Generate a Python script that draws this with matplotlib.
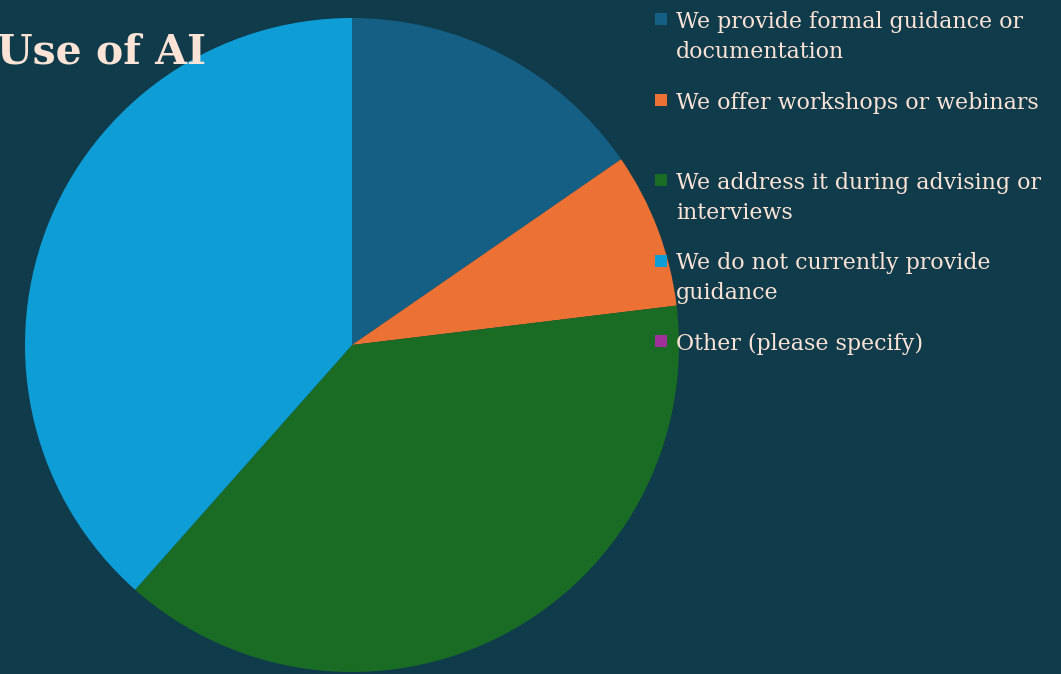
import matplotlib
matplotlib.use("Agg")
import matplotlib.pyplot as plt
from matplotlib.patches import Rectangle

# ------------------------------------------------------------
# Data
# ------------------------------------------------------------

labels = [
    "We provide formal guidance or\ndocumentation",
    "We offer workshops or webinars",
    "We address it during advising or\ninterviews",
    "We do not currently provide\nguidance",
    "Other (please specify)",
]
values = [6, 3, 15, 15, 0]
colors = ["#155f84", "#eb7234", "#1a6b24", "#0f9dd6", "#a0309a"]

BG = "#0f3b4b"
TXT = "#fbe3d6"
FONT = "DejaVu Serif"

W, H = 1061, 674

fig = plt.figure(figsize=(W / 100, H / 100), dpi=100)
fig.patch.set_facecolor(BG)

# pie axes: centre (352, 345), radius 327 px
cx, cy, r = 352, 345, 327
ax = fig.add_axes([(cx - r) / W, (H - cy - r) / H, 2 * r / W, 2 * r / H])
ax.set_facecolor(BG)
ax.pie(
    values,
    colors=colors,
    startangle=90,
    counterclock=False,
    radius=1.0,
    wedgeprops=dict(linewidth=0),
)
ax.set_xlim(-1, 1)
ax.set_ylim(-1, 1)
ax.set_aspect("equal")
ax.axis("off")

# title (clipped at the left edge, as in the source)
fig.text(
    -3 / W, 1 - 64 / H, "Use of AI",
    color=TXT, fontsize=29.5, fontweight="bold",
    family=FONT, va="baseline", ha="left",
)

# legend, one text per wrapped line
y0 = 19
step = 80.5
line_h = 30
for i, (lab, col) in enumerate(zip(labels, colors)):
    y = y0 + i * step
    fig.patches.append(Rectangle(
        (655 / W, 1 - (y + 6) / H), 12 / W, 12 / H,
        transform=fig.transFigure, facecolor=col, edgecolor="none",
    ))
    for k, line in enumerate(lab.split("\n")):
        fig.text(
            676 / W, 1 - (y + 9 + k * line_h) / H, line,
            color=TXT, fontsize=15.9, family=FONT,
            va="baseline", ha="left",
        )

fig.savefig("out.png", dpi=100, facecolor=BG)
